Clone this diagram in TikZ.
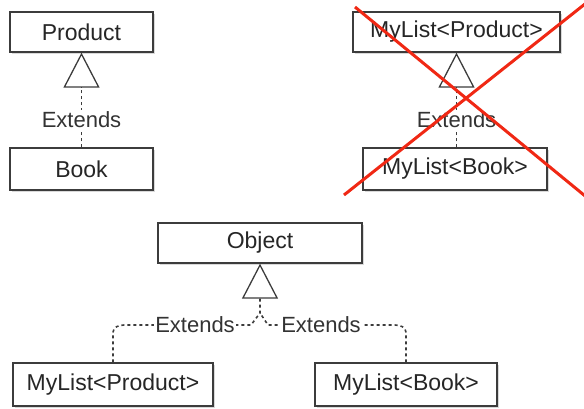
\documentclass[tikz,border=0pt]{standalone}
\usepackage{fontspec}
\setmainfont{Liberation Sans}
\usetikzlibrary{arrows.meta,shadows}
\definecolor{xred}{RGB}{240,40,20}
\definecolor{boxline}{RGB}{60,60,60}
\tikzset{
  cls/.style={draw=boxline, line width=1.3pt, fill=white, rectangle, inner sep=0pt,
    font=\fontsize{23}{26}\selectfont, text=black!85,
    drop shadow={shadow xshift=1.5pt, shadow yshift=-1.5pt, fill=black!25, opacity=0.6}},
  ext/.style={draw=boxline, line width=1.6pt, dash pattern=on 3pt off 3pt},
  gen/.style={-{Triangle[open, length=35pt, width=36pt, line width=1.3pt]}},
  lbl/.style={fill=white, inner sep=1.5pt, font=\fontsize{22}{26}\selectfont, text=black!80},
  cross/.style={draw=xred, line width=3pt}
}
\begin{document}
\begin{tikzpicture}[x=1pt, y=-1pt]
\useasboundingbox (0,0) rectangle (584,408);
% top left
\node[cls, minimum width=143pt, minimum height=40pt] (product) at (81.5,32) {Product};
\node[cls, minimum width=143pt, minimum height=42pt] (book) at (81.5,169) {Book};
\draw[ext, gen] (book.north) -- (product.south);
\node[lbl] (e1) at (81.5,120) {Extends};
% top right
\node[cls, minimum width=207pt, minimum height=40pt] (mlp1) at (456.5,32) {MyList<Product>};
\node[cls, minimum width=184pt, minimum height=42pt] (mlb1) at (455,169) {MyList<Book>};
\draw[ext, gen] (mlb1.north -| mlp1.south) -- (mlp1.south);
\node[lbl] (e2) at (456.5,120) {Extends};
\coordinate (x1a) at (355,7);
\coordinate (x1b) at (590,200);
\coordinate (x2a) at (344,195);
\coordinate (x2b) at (590,0);
\draw[cross] (x1a) -- (x1b);
\draw[cross] (x2a) -- (x2b);
% bottom
\node[cls, minimum width=204pt, minimum height=40pt] (object) at (260,243) {Object};
\node[cls, minimum width=200pt, minimum height=43pt] (mlp2) at (113,384.5) {MyList<Product>};
\node[cls, minimum width=182pt, minimum height=43pt] (mlb2) at (406,384.5) {MyList<Book>};
\coordinate (j) at (object.south |- 0,313);
\draw[ext, gen] (mlp2.north) -- ++(0,-30) to[out=90,in=180] (124,325) -- (251,325) -- (j) -- ++(0,-14) -- (object.south);
\draw[ext] (mlb2.north) -- ++(0,-30) to[out=90,in=0] (395,325) -- (268,325) -- (j);
\node[lbl] (e3) at (195,325) {Extends};
\node[lbl] (e4) at (321,325) {Extends};
\end{tikzpicture}
\end{document}
